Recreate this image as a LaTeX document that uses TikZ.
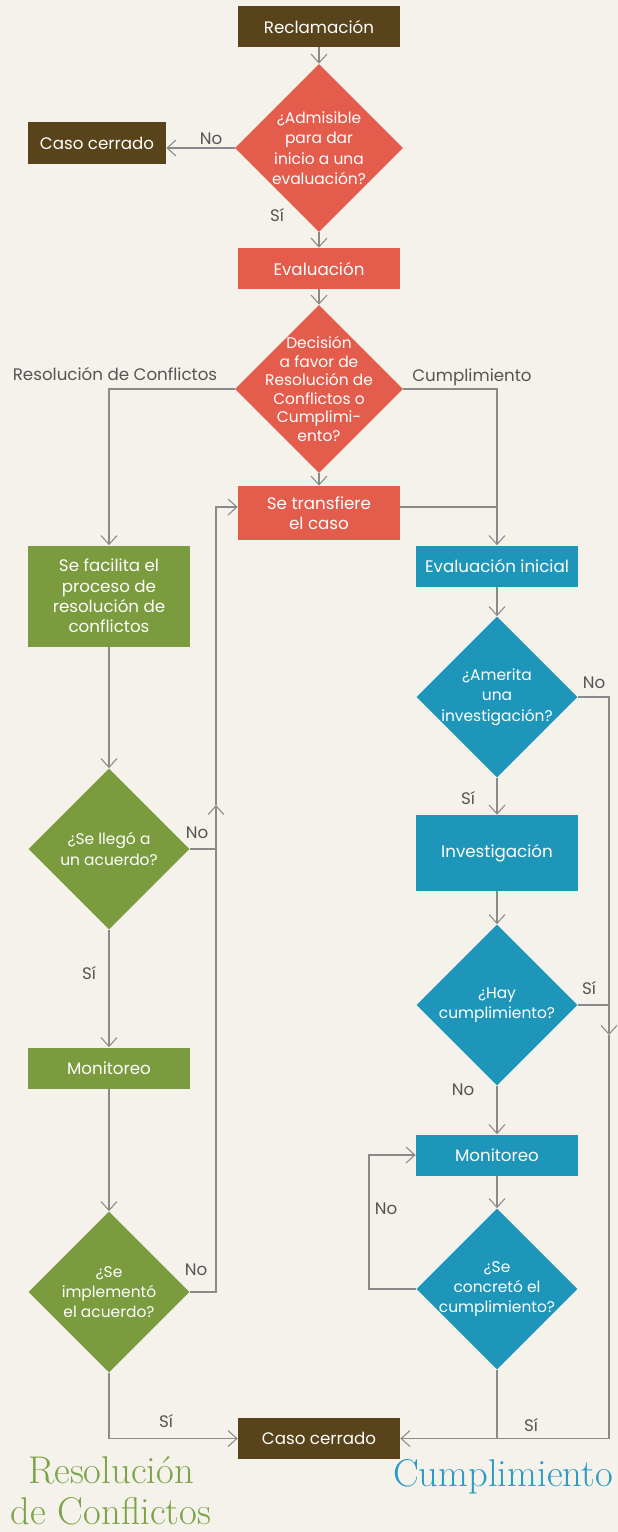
\documentclass[tikz,border=0pt]{standalone}
\usepackage{fontspec}
\setsansfont{Poppins}
\usepackage{tikz}
\usetikzlibrary{arrows.meta, shapes.geometric, positioning}
\definecolor{fondo}{RGB}{245,242,235}
\definecolor{cafe}{RGB}{88,67,26}
\definecolor{rojo}{RGB}{228,92,76}
\definecolor{verde}{RGB}{122,155,62}
\definecolor{azul}{RGB}{30,150,186}
\definecolor{linea}{RGB}{138,138,138}
\definecolor{etiq}{RGB}{85,85,85}
\definecolor{tverde}{RGB}{123,164,72}
\definecolor{tazul}{RGB}{42,155,196}
\newcommand{\letra}{\sffamily\fontsize{9.5}{11.6}\selectfont}
\newcommand{\letrad}{\sffamily\fontsize{8.8}{11.6}\selectfont}
\tikzset{>={Straight Barb[length=5pt,width=9pt]}}
\tikzset{
  caja/.style={rectangle, fill=#1, text=white, font=\letra, align=center,
    minimum width=3.24cm, minimum height=0.82cm, inner sep=2pt},
  decision/.style={diamond, aspect=1, fill=#1, text=white, font=\letrad, align=center,
    minimum width=3.22cm, minimum height=3.22cm, inner sep=-1cm},
  flecha/.style={draw=linea, line width=0.6pt},
  etiqueta/.style={text=etiq, font=\letra},
  titulo/.style={text=#1, font=\rmfamily\fontsize{22}{23}\selectfont, align=center, inner sep=0pt},
}

\begin{document}
\begin{tikzpicture}[x=0.02cm, y=-0.02cm]
		\fill[fondo] (0,0) rectangle (618,1532);
		\useasboundingbox (0,0) rectangle (618,1532);
		% columna central
		\node[caja=cafe] (recl) at (319,26.5) {Reclamación};
		\node[decision=rojo, minimum width=3.36cm, minimum height=3.36cm] (adm) at (319,148) {¿Admisible\\para dar\\inicio a una\\evaluación?};
		\node[caja=cafe, minimum width=2.76cm, minimum height=0.84cm] (cerr1) at (97,143) {Caso cerrado};
		\node[caja=rojo] (eval) at (319,268.5) {Evaluación};
		\node[decision=rojo, minimum width=3.36cm, minimum height=3.36cm, font=\sffamily\fontsize{8.8}{10.6}\selectfont] (dec) at (319,389) {Decisión\\a favor de\\Resolución de\\Conflictos o\\Cumplimi-\\ento?};
		\node[caja=rojo, minimum height=1.08cm] (trans) at (319,513) {Se transfiere\\el caso};
		\node[caja=cafe] (cerr2) at (319,1438.5) {Caso cerrado};
		% resolucion de conflictos
		\node[caja=verde, minimum height=2.02cm] (facil) at (109,596) {Se facilita el\\proceso de\\resolución de\\conflictos};
		\node[decision=verde] (acu) at (109,849) {¿Se llegó a\\un acuerdo?};
		\node[caja=verde] (mon1) at (109,1068) {Monitoreo};
		\node[decision=verde] (impl) at (109,1292) {¿Se\\implementó\\el acuerdo?};
		% cumplimiento
		\node[caja=azul] (evini) at (497,566) {Evaluación inicial};
		\node[decision=azul] (ame) at (497,697) {¿Amerita\\una\\investigación?};
		\node[caja=azul, minimum height=1.52cm] (inv) at (497,853) {Investigación};
		\node[decision=azul] (hay) at (497,1005) {¿Hay\\cumplimiento?};
		\node[caja=azul] (mon2) at (497,1155) {Monitoreo};
		\node[decision=azul] (conc) at (497,1289) {¿Se\\concretó el\\cumplimiento?};
		\coordinate (tj) at (497,507);
		\coordinate (fl1) at (216,805);
		\coordinate (fr1) at (609,1035);
		\coordinate (rz) at (369,1289);
		\draw[flecha,->] (recl) -- (adm);
		\draw[flecha,->] (adm.west) -- (adm.west -| cerr1.east);
		\draw[flecha,->] (adm) -- (eval);
		\draw[flecha,->] (eval) -- (dec);
		\draw[flecha,->] (dec) -- (trans);
		\draw[flecha,->] (dec.west) -| (facil.north);
		\draw[flecha,->] (dec.east) -| (evini.north);
		\draw[flecha] (trans.east |- tj) -- (tj);
		\draw[flecha,->] (facil) -- (acu);
		\draw[flecha,->] (acu) -- (mon1);
		\draw[flecha,->] (mon1) -- (impl);
		\draw[flecha,->] (acu.east) -| (fl1);
		\draw[flecha,->] (fl1) |- (trans.west |- tj);
		\draw[flecha] (impl.east) -| (acu.east -| fl1);
		\draw[flecha,->] (impl.south) |- (cerr2.west);
		\draw[flecha,->] (evini) -- (ame);
		\draw[flecha,->] (ame) -- (inv);
		\draw[flecha,->] (inv) -- (hay);
		\draw[flecha,->] (hay) -- (mon2);
		\draw[flecha,->] (mon2) -- (conc);
		\draw[flecha,->] (ame.east) -| (fr1);
		\draw[flecha] (hay.east) -- (hay.east -| fr1);
		\draw[flecha,->] (fr1) |- (cerr2.east);
		\draw[flecha] (conc.south) -- (conc.south |- cerr2.east);
		\draw[flecha,->] (conc.west) -- (rz) |- (mon2.west);
		% etiquetas
		\node[etiqueta] (l1) at (211,139) {No};
		\node[etiqueta] (l2) at (277,215) {Sí};
		\node[etiqueta] (l3) at (115,374) {Resolución de Conflictos};
		\node[etiqueta] (l4) at (472,377) {Cumplimiento};
		\node[etiqueta] (l5) at (197,833) {No};
		\node[etiqueta] (l6) at (89,973) {Sí};
		\node[etiqueta] (l7) at (196,1270) {No};
		\node[etiqueta] (l8) at (166,1421) {Sí};
		\node[etiqueta] (l9) at (594,683) {No};
		\node[etiqueta] (l10) at (468,798) {Sí};
		\node[etiqueta] (l11) at (589,988) {Sí};
		\node[etiqueta] (l12) at (463,1090) {No};
		\node[etiqueta] (l13) at (386,1209) {No};
		\node[etiqueta] (l14) at (531,1425) {Sí};
		% titulos
		\node[titulo=tverde] (tres) at (111,1491) {Resolución\\de Conflictos};
		\node[titulo=tazul] (tcum) at (503,1477) {Cumplimiento};
\end{tikzpicture}
\end{document}
